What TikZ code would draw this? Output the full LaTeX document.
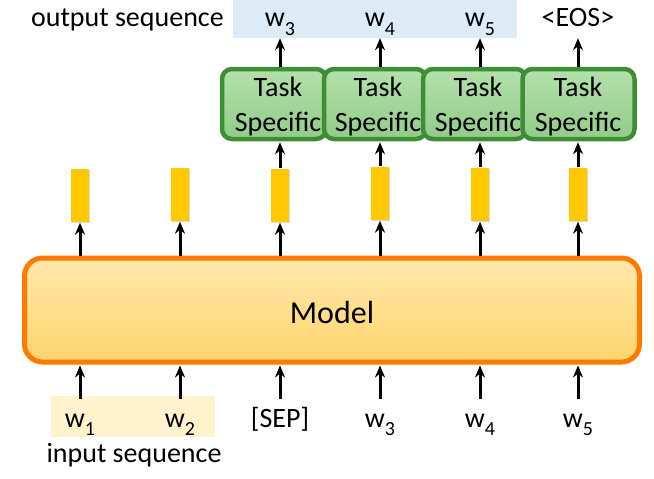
\documentclass[tikz,border=0pt]{standalone}
\usepackage{fontspec}
\setmainfont{Carlito}
\usetikzlibrary{arrows.meta,shadows}
\definecolor{bandblue}{HTML}{DDEBF7}
\definecolor{bandyellow}{HTML}{FFF2CC}
\definecolor{tgreen}{HTML}{3E8E35}
\definecolor{tgtop}{HTML}{B4E0AB}
\definecolor{tgbot}{HTML}{92CC89}
\definecolor{barY}{HTML}{FFC800}
\definecolor{morange}{HTML}{FF7A00}
\definecolor{mtop}{HTML}{FFE8AC}
\definecolor{mbot}{HTML}{FFD46C}
\newcommand\wsub[2]{#1\raisebox{-0.32em}{\fontsize{20}{20}\selectfont #2}}
\begin{document}
\begin{tikzpicture}[x=1pt,y=-1pt,
  lbl/.style={font=\fontsize{28}{33}\selectfont, inner sep=0pt},
  arr/.style={-{Stealth[length=12pt,width=10pt]}, line width=3pt},
  bar/.style={fill=barY, minimum width=18pt, minimum height=53pt, inner sep=0pt, draw=none,
    drop shadow={opacity=0.3, shadow xshift=1pt, shadow yshift=-1.5pt}},
  tbox/.style={draw=tgreen, line width=4.5pt, rounded corners=10pt, top color=tgtop, bottom color=tgbot,
    minimum height=70pt, inner sep=0pt},
  ttext/.style={font=\fontsize{28}{35}\selectfont, align=center, inner sep=0pt},
  outlbl/.style={lbl, anchor=base, text depth=11pt},
  inlbl/.style={lbl, anchor=base, text height=28pt}]
\useasboundingbox (0,0) rectangle (654,479);

% output band
\node[fill=bandblue, inner sep=0pt, minimum width=284pt, minimum height=38pt] (oband) at (375,19) {};
\node[lbl, anchor=base east] (outseq) at (224,27) {output sequence};
\node[outlbl] (o1) at (280,27) {\wsub{w}{3}};
\node[outlbl] (o2) at (380,27) {\wsub{w}{4}};
\node[outlbl] (o3) at (480,27) {\wsub{w}{5}};
\node[outlbl] (o4) at (578,27) {<EOS>};

% task boxes
\node[tbox, minimum width=104pt] (tb1) at (274,104) {};
\node[ttext] (tt1) at (278,107) {Task\\Specific};
\node[tbox, minimum width=102pt] (tb2) at (375,104) {};
\node[ttext] (tt2) at (378,107) {Task\\Specific};
\node[tbox, minimum width=103pt] (tb3) at (474.5,104) {};
\node[ttext] (tt3) at (478,107) {Task\\Specific};
\node[tbox, minimum width=112pt] (tb4) at (578.5,104) {};
\node[ttext] (tt4) at (578,107) {Task\\Specific};

% bars
\node[bar] (b1) at (80,195) {};
\node[bar] (b2) at (180,194) {};
\node[bar] (b3) at (280,195) {};
\node[bar] (b4) at (380,193) {};
\node[bar] (b5) at (480,194) {};
\node[bar] (b6) at (578,194) {};

% model
\node[draw=morange, line width=5pt, rounded corners=18pt, top color=mtop, bottom color=mbot,
  minimum width=615pt, minimum height=104pt, inner sep=0pt] (model) at (332,310) {};
\node[font=\fontsize{32}{38}\selectfont, inner sep=0pt] (mtext) at (332,312) {Model};

% input band and labels
\node[fill=bandyellow, inner sep=0pt, minimum width=164pt, minimum height=41pt] (iband) at (133,416.5) {};
\node[inlbl] (i1) at (80,427) {\wsub{w}{1}};
\node[inlbl] (i2) at (180,427) {\wsub{w}{2}};
\node[inlbl] (i3) at (280,427) {[SEP]};
\node[inlbl] (i4) at (380,427) {\wsub{w}{3}};
\node[inlbl] (i5) at (480,427) {\wsub{w}{4}};
\node[inlbl] (i6) at (578,427) {\wsub{w}{5}};
\node[lbl, anchor=base] (inseq) at (134,462) {input sequence};

% arrows: input -> model
\foreach \i in {1,...,6}{
  \draw[arr, shorten >=1pt] (i\i.north) -- (model.south -| i\i);
}
% model -> bars
\foreach \i in {1,...,6}{
  \draw[arr, shorten >=1pt] (model.north -| b\i) -- (b\i.south);
}
% bars -> task boxes
\draw[arr, shorten >=1pt] (b3.north) -- (b3.north |- tb1.south);
\draw[arr, shorten >=1pt] (b4.north) -- (b4.north |- tb2.south);
\draw[arr, shorten >=1pt] (b5.north) -- (b5.north |- tb3.south);
\draw[arr, shorten >=1pt] (b6.north) -- (b6.north |- tb4.south);
% task boxes -> outputs
\draw[arr] (o1 |- tb1.north) -- (o1.south);
\draw[arr] (o2 |- tb2.north) -- (o2.south);
\draw[arr] (o3 |- tb3.north) -- (o3.south);
\draw[arr] (o4 |- tb4.north) -- (o4.south);
\end{tikzpicture}
\end{document}
